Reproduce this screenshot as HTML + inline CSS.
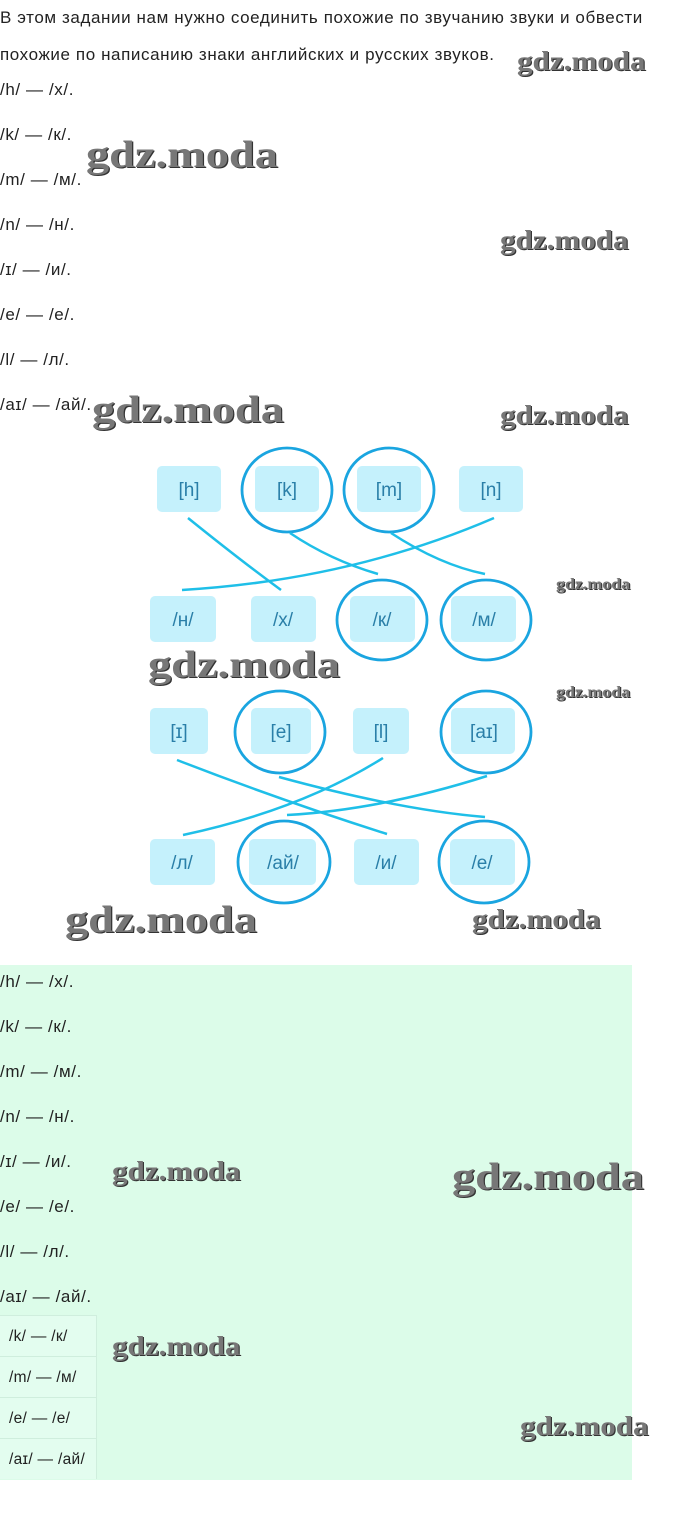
<!DOCTYPE html>
<html><head><meta charset="utf-8"><style>
body{margin:0;width:680px;height:1515px;background:#fff;position:relative;font-family:"Liberation Sans",sans-serif;color:#222;overflow:hidden}
.t{position:absolute;left:0;font-size:17px;letter-spacing:0.6px;line-height:20px;white-space:nowrap}
.wm{position:absolute;font-family:"Liberation Serif",serif;font-weight:bold;color:#777;text-shadow:1px 1px 0 #333;letter-spacing:0px;white-space:nowrap;transform-origin:0 0}
.green{position:absolute;left:0;top:965px;width:632px;height:515px;background:#dcfce9}
.cell{position:absolute;left:0;width:97px;height:41px;border-top:1px solid #cfeedd;border-right:1px solid #cfeedd;background:#e3fdef;font-size:15.5px;letter-spacing:0.3px;line-height:41px;padding-left:9px;box-sizing:border-box;white-space:nowrap}
</style></head><body>
<div class="t" style="top:8px">В этом задании нам нужно соединить похожие по звучанию звуки и обвести</div>
<div class="t" style="top:45px">похожие по написанию знаки английских и русских звуков.</div>
<div class="t" style="top:80px">/h/ — /х/.</div>
<div class="t" style="top:125px">/k/ — /к/.</div>
<div class="t" style="top:170px">/m/ — /м/.</div>
<div class="t" style="top:215px">/n/ — /н/.</div>
<div class="t" style="top:260px">/ɪ/ — /и/.</div>
<div class="t" style="top:305px">/e/ — /е/.</div>
<div class="t" style="top:350px">/l/ — /л/.</div>
<div class="t" style="top:395px">/aɪ/ — /ай/.</div>

<svg style="position:absolute;left:0;top:0" width="680" height="960" font-family="Liberation Sans, sans-serif" font-size="19" fill="#1a7fb0">
<g fill="#c5f1fc">
<rect x="157" y="466" width="64" height="46" rx="5"/><rect x="255" y="466" width="64" height="46" rx="5"/><rect x="357" y="466" width="64" height="46" rx="5"/><rect x="459" y="466" width="64" height="46" rx="5"/>
<rect x="150" y="596" width="66" height="46" rx="5"/><rect x="251" y="596" width="65" height="46" rx="5"/><rect x="350" y="596" width="65" height="46" rx="5"/><rect x="451" y="596" width="65" height="46" rx="5"/>
<rect x="150" y="708" width="58" height="46" rx="5"/><rect x="251" y="708" width="60" height="46" rx="5"/><rect x="353" y="708" width="56" height="46" rx="5"/><rect x="451" y="708" width="64" height="46" rx="5"/>
<rect x="150" y="839" width="65" height="46" rx="5"/><rect x="249" y="839" width="67" height="46" rx="5"/><rect x="354" y="839" width="65" height="46" rx="5"/><rect x="450" y="839" width="65" height="46" rx="5"/>
</g>
<g text-anchor="middle" fill="#2a7fa8">
<text x="189" y="496">[h]</text><text x="287" y="496">[k]</text><text x="389" y="496">[m]</text><text x="491" y="496">[n]</text>
<text x="183" y="626">/н/</text><text x="283" y="626">/х/</text><text x="382" y="626">/к/</text><text x="484" y="626">/м/</text>
<text x="179" y="738">[ɪ]</text><text x="281" y="738">[e]</text><text x="381" y="738">[l]</text><text x="484" y="738">[aɪ]</text>
<text x="182" y="869">/л/</text><text x="283" y="869">/ай/</text><text x="386" y="869">/и/</text><text x="482" y="869">/е/</text>
</g>
<g fill="none" stroke="#1aa5e0" stroke-width="2.8">
<ellipse cx="287" cy="490" rx="45" ry="42"/><ellipse cx="389" cy="490" rx="45" ry="42"/>
<ellipse cx="382" cy="620" rx="45" ry="40"/><ellipse cx="486" cy="620" rx="45" ry="40"/>
<ellipse cx="280" cy="732" rx="45" ry="41"/><ellipse cx="486" cy="732" rx="45" ry="41"/>
<ellipse cx="284" cy="862" rx="46" ry="41"/><ellipse cx="484" cy="862" rx="45" ry="41"/>
</g>
<g fill="none" stroke="#1fbfe8" stroke-width="2.5">
<path d="M188 518 Q240 560 281 590"/>
<path d="M290 533 Q330 560 378 574"/>
<path d="M391 533 Q440 565 485 574"/>
<path d="M494 518 Q350 580 182 590"/>
<path d="M177 760 Q280 800 387 834"/>
<path d="M383 758 Q300 810 183 835"/>
<path d="M487 776 Q380 810 287 815"/>
<path d="M279 777 Q400 810 485 817"/>
</g>
</svg>

<div class="green"></div>
<div class="t" style="top:972px">/h/ — /х/.</div>
<div class="t" style="top:1017px">/k/ — /к/.</div>
<div class="t" style="top:1062px">/m/ — /м/.</div>
<div class="t" style="top:1107px">/n/ — /н/.</div>
<div class="t" style="top:1152px">/ɪ/ — /и/.</div>
<div class="t" style="top:1197px">/e/ — /е/.</div>
<div class="t" style="top:1242px">/l/ — /л/.</div>
<div class="t" style="top:1287px">/aɪ/ — /ай/.</div>
<div class="cell" style="top:1315px">/k/ — /к/</div>
<div class="cell" style="top:1356px">/m/ — /м/</div>
<div class="cell" style="top:1397px">/e/ — /е/</div>
<div class="cell" style="top:1438px">/aɪ/ — /ай/</div>

<div class="wm" style="left:517px;top:46px;font-size:27px;transform:scaleX(1.15)">gdz.moda</div>
<div class="wm" style="left:86px;top:133px;font-size:38px;transform:scaleX(1.22)">gdz.moda</div>
<div class="wm" style="left:500px;top:225px;font-size:27px;transform:scaleX(1.15)">gdz.moda</div>
<div class="wm" style="left:92px;top:388px;font-size:38px;transform:scaleX(1.22)">gdz.moda</div>
<div class="wm" style="left:500px;top:400px;font-size:27px;transform:scaleX(1.15)">gdz.moda</div>
<div class="wm" style="left:556px;top:576px;font-size:16px;transform:scaleX(1.12)">gdz.moda</div>
<div class="wm" style="left:148px;top:643px;font-size:38px;transform:scaleX(1.22)">gdz.moda</div>
<div class="wm" style="left:556px;top:684px;font-size:16px;transform:scaleX(1.12)">gdz.moda</div>
<div class="wm" style="left:65px;top:898px;font-size:38px;transform:scaleX(1.22)">gdz.moda</div>
<div class="wm" style="left:472px;top:904px;font-size:27px;transform:scaleX(1.15)">gdz.moda</div>
<div class="wm" style="left:112px;top:1156px;font-size:27px;transform:scaleX(1.15)">gdz.moda</div>
<div class="wm" style="left:452px;top:1155px;font-size:38px;transform:scaleX(1.22)">gdz.moda</div>
<div class="wm" style="left:112px;top:1331px;font-size:27px;transform:scaleX(1.15)">gdz.moda</div>
<div class="wm" style="left:520px;top:1411px;font-size:27px;transform:scaleX(1.15)">gdz.moda</div>
</body></html>
